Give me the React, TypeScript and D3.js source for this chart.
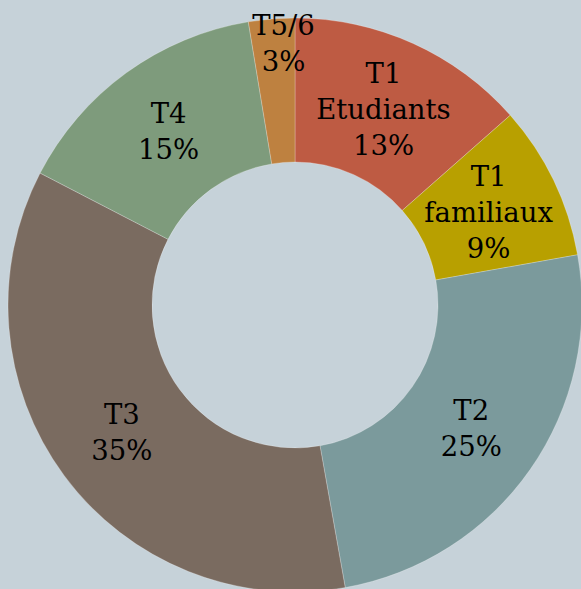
import React from "react";
import * as d3 from "d3";

const categories = ["T1 Etudiants", "T1 familiaux", "T2", "T3", "T4", "T5/6"];
const values = [13.5, 8.7, 25.0, 35.4, 14.8, 2.6];
const labelLines = [
  ["T1", "Etudiants", "13%"],
  ["T1", "familiaux", "9%"],
  ["T2", "25%"],
  ["T3", "35%"],
  ["T4", "15%"],
  ["T5/6", "3%"],
];
const colors = ["#BE5B43", "#B8A000", "#7B9A9C", "#7A6B60", "#7E9B7C", "#BE8140"];

const W = 581;
const H = 589;
const BG = "#C6D2D9";

export default function App() {
  const cx = 295;
  const cy = 305;
  const outerR = 287;
  const innerR = 143;
  const data = categories.map((c, i) => ({ c, v: values[i], i }));
  const pie = d3.pie<any>().value((d) => d.v).sort(null);
  const arcs = pie(data);
  const arc = d3.arc<any>().innerRadius(innerR).outerRadius(outerR);
  const lh = 36;
  return (
    <div style={{ position: "fixed", left: 0, top: 0, width: W, height: H, background: BG }}>
      <svg width={W} height={H} style={{ display: "block" }}>
        <rect width={W} height={H} fill={BG} />
        <g transform={`translate(${cx},${cy})`}>
          {arcs.map((a, i) => (
            <path key={i} d={arc(a) as string} fill={colors[i]} stroke="rgba(255,255,255,0.35)" strokeWidth={0.7} />
          ))}
          {arcs.map((a, i) => {
            const mid = (a.startAngle + a.endAngle) / 2;
            const r = i === 5 ? 263 : (innerR + outerR) / 2;
            const x = Math.sin(mid) * r;
            const y = -Math.cos(mid) * r;
            const lines = labelLines[i];
            const n = lines.length;
            return (
              <text
                key={i}
                textAnchor="middle"
                fontFamily="'DejaVu Serif', serif"
                fontSize={27.5}
                fill="#000"
              >
                {lines.map((l, j) => (
                  <tspan key={j} x={x + (i === 5 ? 10 : 0)} y={y + (j - (n - 1) / 2) * lh} dy="0.36em">
                    {l}
                  </tspan>
                ))}
              </text>
            );
          })}
        </g>
      </svg>
    </div>
  );
}
